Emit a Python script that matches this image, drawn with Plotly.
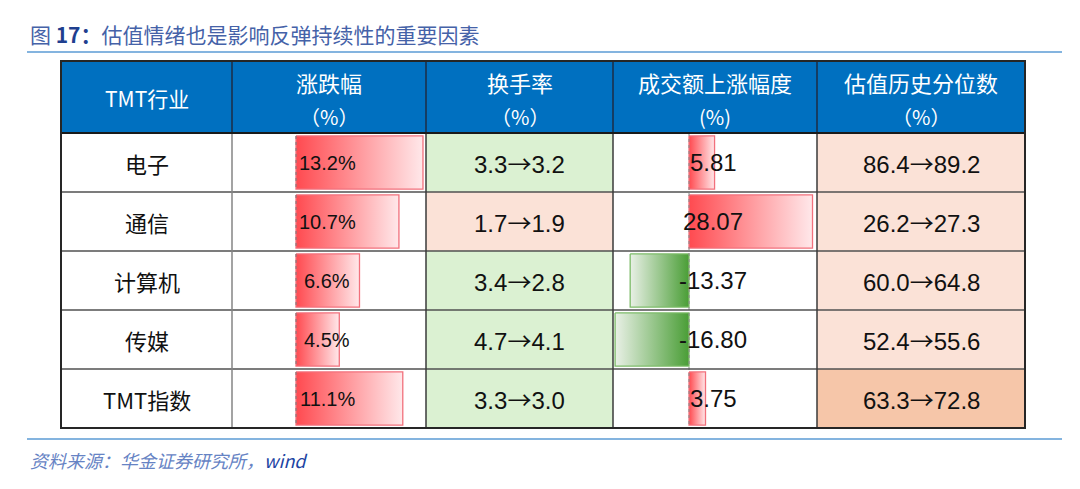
import plotly.graph_objects as go

# ---------------- data ----------------
industries = ["电子", "通信", "计算机", "传媒", "TMT指数"]
change_pct = [13.2, 10.7, 6.6, 4.5, 11.1]
turnover_before = [3.3, 1.7, 3.4, 4.7, 3.3]
turnover_after = [3.2, 1.9, 2.8, 4.1, 3.0]
amount_change = [5.81, 28.07, -13.37, -16.80, 3.75]
valuation_before = [86.4, 26.2, 60.0, 52.4, 63.3]
valuation_after = [89.2, 27.3, 64.8, 55.6, 72.8]
header_lines = [["TMT行业"], ["涨跌幅", "（%）"], ["换手率", "（%）"],
                ["成交额上涨幅度", "(%)"], ["估值历史分位数", "（%）"]]
title_num = "17："
title_text = "估值情绪也是影响反弹持续性的重要因素"
source_cn = "资料来源：华金证券研究所，"
source_en = "wind"

# ---------------- layout geometry (pixels in the screenshot) ----------------
W, H = 1080, 489
OFF = 8  # page body margin
col_x = [61, 232, 426, 613, 817, 1025]
top, head_bot, bot = 61, 133, 428
n = len(industries)

def px(x):
    return (x - OFF) / W

def py(y):
    return 1 - (y - OFF) / H

# bar axis calibration
c2_zero, c2_scale = 296, 9.62   # px of 0, px per unit
c4_zero, c4_scale = 689, 4.40

fig = go.Figure()

red_scale = [[0, "#ff4a50"], [1, "#ffe8ea"]]
green_scale = [[0, "#e9f0e6"], [1, "#4a9e36"]]
hh = 0.45

def add_bar(v, i, xaxis):
    x0, x1 = (0, v) if v >= 0 else (v, 0)
    pos = v >= 0
    fig.add_trace(go.Scatter(
        x=[x0, x1, x1, x0, x0], y=[i - hh, i - hh, i + hh, i + hh, i - hh],
        xaxis=xaxis, yaxis="y", mode="lines", fill="toself",
        fillgradient=dict(type="horizontal", colorscale=red_scale if pos else green_scale),
        line=dict(color="#f2707c" if pos else "#7cbb68", width=1.3),
        hoverinfo="skip", showlegend=False))

for i, v in enumerate(change_pct):
    add_bar(v, i, "x")
for i, v in enumerate(amount_change):
    add_bar(v, i, "x2")

shapes = []
annotations = []

# header background
shapes.append(dict(type="rect", xref="paper", yref="paper", x0=px(col_x[0]), x1=px(col_x[-1]),
                   y0=py(head_bot), y1=py(top), fillcolor="#0070c0", line=dict(width=0), layer="below"))

# cell backgrounds
val_delta = [a - b for a, b in zip(valuation_after, valuation_before)]
max_delta = max(val_delta)
for i in range(n):
    c3 = "#dbf1d2" if turnover_after[i] < turnover_before[i] else "#fbe2d7"
    c5 = "#f6c6a9" if val_delta[i] == max_delta else "#fbe2d7"
    for (xa, xb), c in [((col_x[2], col_x[3]), c3), ((col_x[4], col_x[5]), c5)]:
        shapes.append(dict(type="rect", xref="paper", yref="y", x0=px(xa), x1=px(xb),
                           y0=i - 0.5, y1=i + 0.5, fillcolor=c, line=dict(width=0), layer="below"))

# zero dotted lines
for i in range(n):
    shapes.append(dict(type="line", xref="x", yref="y", x0=0, x1=0, y0=i - hh, y1=i + hh,
                       line=dict(color="#777777", width=1, dash="dot"), layer="above"))
shapes.append(dict(type="line", xref="x2", yref="y", x0=0, x1=0, y0=-0.5, y1=n - 0.5,
                   line=dict(color="#888888", width=1, dash="dot"), layer="above"))

# grid lines
for i in range(1, n):
    shapes.append(dict(type="line", xref="paper", yref="y", x0=px(col_x[0]), x1=px(col_x[-1]),
                       y0=i - 0.5, y1=i - 0.5, line=dict(color="#505050", width=1.5), layer="above"))
for k, xc in enumerate(col_x[1:-1]):
    shapes.append(dict(type="line", xref="paper", yref="paper", x0=px(xc), x1=px(xc),
                       y0=py(head_bot), y1=py(top), line=dict(color="#1d2d45", width=1.5), layer="above"))
    shapes.append(dict(type="line", xref="paper", yref="paper", x0=px(xc), x1=px(xc),
                       y0=py(bot), y1=py(head_bot),
                       line=dict(color="#858585" if k == 0 else "#3a3a3a", width=1.5), layer="above"))
shapes.append(dict(type="line", xref="paper", yref="paper", x0=px(col_x[0]), x1=px(col_x[-1]),
                   y0=py(head_bot), y1=py(head_bot), line=dict(color="#1a1a1a", width=2), layer="above"))
shapes.append(dict(type="rect", xref="paper", yref="paper", x0=px(col_x[0]), x1=px(col_x[-1]),
                   y0=py(bot), y1=py(top), line=dict(color="#262626", width=2), layer="above"))

# title & source rules
shapes.append(dict(type="line", xref="paper", yref="paper", x0=px(27), x1=px(1062),
                   y0=py(52), y1=py(52), line=dict(color="#5b9bd5", width=1.5)))
shapes.append(dict(type="line", xref="paper", yref="paper", x0=px(27), x1=px(1062),
                   y0=py(439), y1=py(439), line=dict(color="#5b9bd5", width=1.5)))

CJK = "Noto Sans CJK SC"
NUM = "Liberation Sans, Arial"
ARROW = "<span style='font-family:Noto Sans CJK SC'>→</span>"

def ann(x, y, text, size, color="#111111", family=CJK, yref="paper", xanchor="center"):
    annotations.append(dict(xref="paper", yref=yref, x=x, y=y, xanchor=xanchor, yanchor="middle",
                            showarrow=False, text=text, font=dict(family=family, size=size, color=color)))

# title
ann(px(28), py(34), f"图 <b><span style='color:#1f3f8f'>{title_num}</span></b>{title_text}",
    21, color="#4562a8", xanchor="left")
# source
ann(px(28), py(460), f"<i>{source_cn}<span style='color:#2144a3'>{source_en}</span></i>",
    18, color="#6683c4", xanchor="left")

# header text
for k, lines in enumerate(header_lines):
    cx = px((col_x[k] + col_x[k + 1]) / 2)
    if len(lines) == 1:
        ann(cx, py(98), lines[0], 21, color="white")
    else:
        ann(cx, py(82), lines[0], 22, color="white")
        ann(cx, py(116), lines[1], 20, color="white")

# body text
for i in range(n):
    ann(px((col_x[0] + col_x[1]) / 2), i, industries[i], 22, yref="y")
    ann(px(327), i, f"{change_pct[i]:.1f}%", 20, family=NUM, yref="y")
    ann(px((col_x[2] + col_x[3]) / 2), i,
        f"{turnover_before[i]:.1f}{ARROW}{turnover_after[i]:.1f}", 24, family=NUM, yref="y")
    ann(px(713), i, f"{amount_change[i]:.2f}", 24, family=NUM, yref="y")
    ann(px((col_x[4] + col_x[5]) / 2), i,
        f"{valuation_before[i]:.1f}{ARROW}{valuation_after[i]:.1f}", 24, family=NUM, yref="y")

hidden = dict(visible=False, showgrid=False, zeroline=False, fixedrange=True)
fig.update_layout(
    width=W, height=H, margin=dict(l=0, r=0, t=0, b=0),
    paper_bgcolor="white", plot_bgcolor="rgba(0,0,0,0)",
    xaxis=dict(domain=[px(col_x[1]), px(col_x[2])],
               range=[(col_x[1] - c2_zero) / c2_scale, (col_x[2] - c2_zero) / c2_scale], **hidden),
    xaxis2=dict(domain=[px(col_x[3]), px(col_x[4])], anchor="y",
                range=[(col_x[3] - c4_zero) / c4_scale, (col_x[4] - c4_zero) / c4_scale], **hidden),
    yaxis=dict(domain=[py(bot), py(head_bot)], range=[n - 0.5, -0.5], **hidden),
    shapes=shapes, annotations=annotations, showlegend=False,
)

fig.write_html("out.html")
